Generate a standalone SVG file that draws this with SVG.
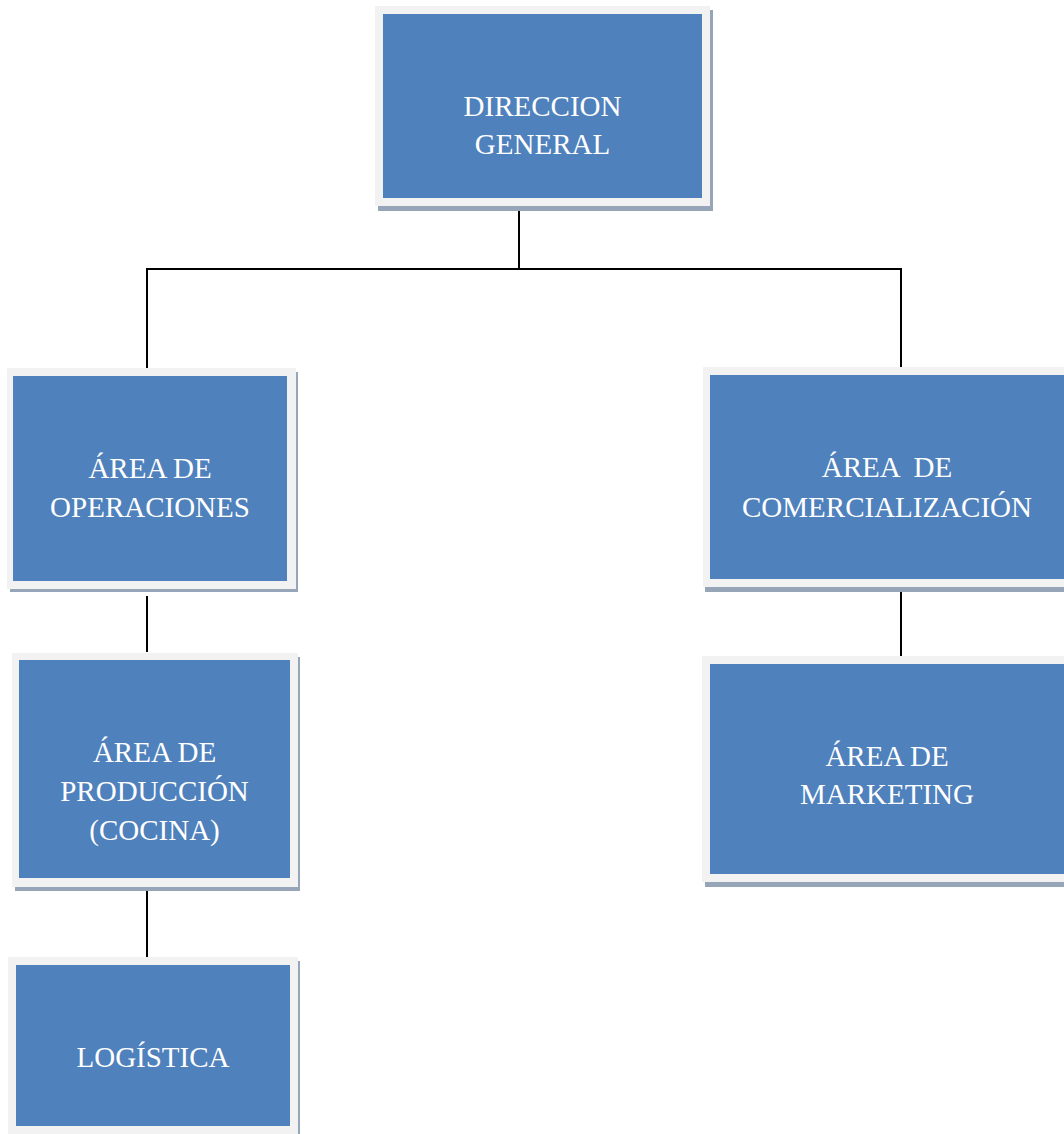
<svg xmlns="http://www.w3.org/2000/svg" width="1064" height="1134" viewBox="0 0 1064 1134">
<style>
.sh{fill:#97a5b9}
.fr{fill:#f2f2f2}
.bx{fill:#4f81bd}
.t{font-family:"Liberation Serif","Times New Roman",serif;font-size:29px;fill:#ffffff;text-anchor:middle}
.c{stroke:#000000;stroke-width:2;fill:none}
</style>
<rect width="1064" height="1134" fill="#ffffff"/>
<g id="connectors">
<line class="c" x1="519" y1="206" x2="519" y2="269"/>
<line class="c" x1="147" y1="269" x2="902" y2="269"/>
<line class="c" x1="147" y1="268" x2="147" y2="370"/>
<line class="c" x1="901" y1="268" x2="901" y2="372"/>
<line class="c" x1="147" y1="596" x2="147" y2="652"/>
<line class="c" x1="147" y1="889" x2="147" y2="957"/>
<line class="c" x1="901" y1="580" x2="901" y2="656"/>
</g>
<g id="direccion">
<rect class="sh" x="378" y="10" width="335" height="201"/>
<rect class="fr" x="375" y="6" width="335" height="200"/>
<rect class="bx" x="383" y="14" width="319" height="184"/>
<text class="t" x="542.5" y="116">DIRECCION</text>
<text class="t" x="542.5" y="154">GENERAL</text>
</g>
<g id="operaciones">
<rect class="sh" x="10" y="372" width="288" height="220"/>
<rect class="fr" x="7" y="368" width="289" height="221"/>
<rect class="bx" x="13" y="376" width="274" height="205"/>
<text class="t" x="150" y="478">ÁREA DE</text>
<text class="t" x="150" y="517">OPERACIONES</text>
</g>
<g id="comercializacion">
<rect class="sh" x="705" y="371" width="370" height="221"/>
<rect class="fr" x="703" y="367" width="370" height="220"/>
<rect class="bx" x="710" y="375" width="360" height="204"/>
<text class="t" x="887" y="477" xml:space="preserve">ÁREA  DE</text>
<text class="t" x="887" y="517">COMERCIALIZACIÓN</text>
</g>
<g id="produccion">
<rect class="sh" x="15" y="657" width="285" height="234"/>
<rect class="fr" x="12" y="653" width="286" height="234"/>
<rect class="bx" x="19" y="660" width="271" height="218"/>
<text class="t" x="154.5" y="762">ÁREA DE</text>
<text class="t" x="154.5" y="801">PRODUCCIÓN</text>
<text class="t" x="154.5" y="840">(COCINA)</text>
</g>
<g id="marketing">
<rect class="sh" x="705" y="660" width="370" height="227"/>
<rect class="fr" x="702" y="656" width="370" height="226"/>
<rect class="bx" x="710" y="664" width="360" height="210"/>
<text class="t" x="887" y="766">ÁREA DE</text>
<text class="t" x="887" y="804">MARKETING</text>
</g>
<g id="logistica">
<rect class="sh" x="11" y="961" width="289" height="180"/>
<rect class="fr" x="8" y="957" width="290" height="180"/>
<rect class="bx" x="16" y="965" width="274" height="161"/>
<text class="t" x="153" y="1067">LOGÍSTICA</text>
</g>
</svg>
